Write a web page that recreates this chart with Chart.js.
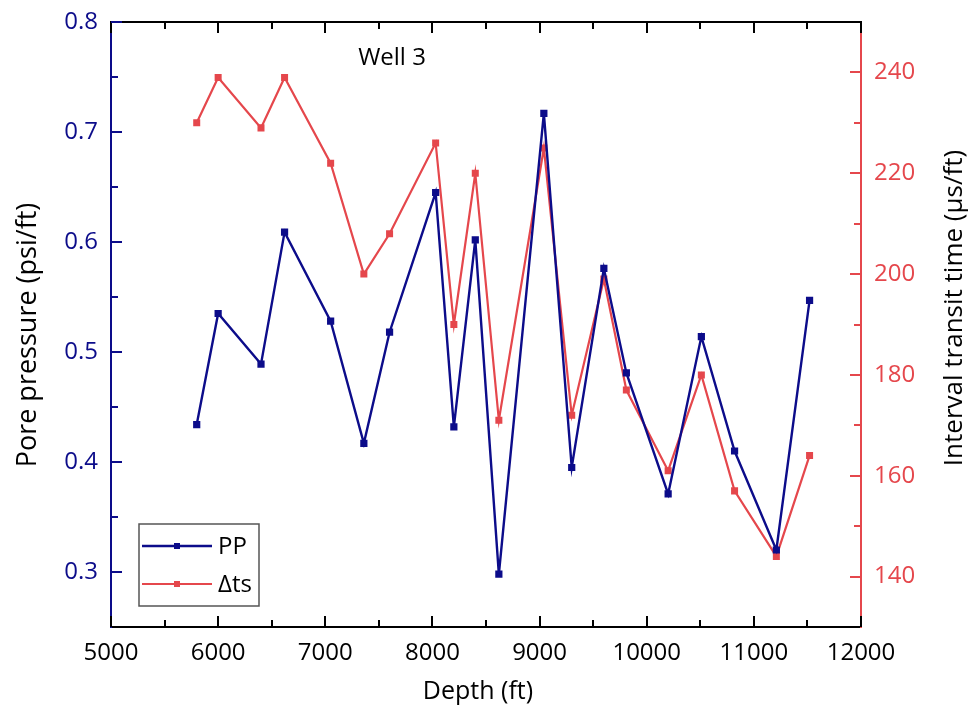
<!DOCTYPE html>
<html><head><meta charset="utf-8">
<script src="https://cdn.jsdelivr.net/npm/chart.js@4"></script>
<style>html,body{margin:0;padding:0;background:#fff}#wrap{width:978px;height:709px}</style>
</head><body><div id="wrap"><canvas id="c" width="978" height="709"></canvas></div>
<script>
const depth = [5800,6000,6400,6620,7050,7360,7600,8030,8200,8400,8620,9040,9300,9600,9810,10200,10510,10820,11210,11520];
const pp = [0.434,0.535,0.489,0.609,0.528,0.417,0.518,0.645,0.432,0.602,0.298,0.717,0.395,0.576,0.481,0.371,0.514,0.410,0.320,0.547];
const dts = [230,239,229,239,222,200,208,226,190,220,171,225,172,199,177,161,180,157,144,164];
const xTicks = [5000,6000,7000,8000,9000,10000,11000,12000];
const xMinor = [5500,6500,7500,8500,9500,10500,11500];
const ppTicks = [0.3,0.4,0.5,0.6,0.7,0.8];
const ppMinor = [0.35,0.45,0.55,0.65,0.75];
const dtsTicks = [140,160,180,200,220,240];
const dtsMinor = [150,170,190,210,230];
const seriesNames = ['PP','\u0394ts'];
const wellLabel = 'Well 3';
const xTitle = 'Depth (ft)';
const yTitle = 'Pore pressure (psi/ft)';
const y2Title = 'Interval transit time (\u00b5s/ft)';

const NAVY = '#0c0c8a', RED = '#e5474c', FONT = "'Open Sans'";

const tickPlugin = {
  id: 'inTicks',
  beforeDatasetsDraw(chart) {
    const {ctx, chartArea: a, scales: {x, y, y2}} = chart;
    ctx.save();
    ctx.lineWidth = 2;
    ctx.strokeStyle = '#000';
    ctx.beginPath(); ctx.moveTo(a.left - 1, a.top); ctx.lineTo(a.right + 1, a.top); ctx.stroke();
    const vx = (vals, len) => { vals.forEach(v => { const p = Math.round(x.getPixelForValue(v)); ctx.beginPath(); ctx.moveTo(p, a.bottom); ctx.lineTo(p, a.bottom - len); ctx.moveTo(p, a.top); ctx.lineTo(p, a.top + len); ctx.stroke(); }); };
    vx(xTicks, 11); vx(xMinor, 7);
    ctx.strokeStyle = NAVY;
    const vy = (vals, len) => { vals.forEach(v => { const p = Math.round(y.getPixelForValue(v)); ctx.beginPath(); ctx.moveTo(a.left, p); ctx.lineTo(a.left + len, p); ctx.stroke(); }); };
    vy(ppTicks, 11); vy(ppMinor, 7);
    ctx.strokeStyle = RED;
    const vy2 = (vals, len) => { vals.forEach(v => { const p = Math.round(y2.getPixelForValue(v)); ctx.beginPath(); ctx.moveTo(a.right, p); ctx.lineTo(a.right - len, p); ctx.stroke(); }); };
    vy2(dtsTicks, 11); vy2(dtsMinor, 7);
    ctx.restore();
  },
  afterDraw(chart) {
    const {ctx} = chart;
    ctx.save();
    ctx.fillStyle = '#000';
    ctx.textAlign = 'center'; ctx.textBaseline = 'middle';
    ctx.font = "24px " + FONT;
    ctx.fillText(wellLabel, 392, 58);
    ctx.font = "25px " + FONT;
    ctx.fillText(xTitle, 478, 692);
    ctx.font = "27px " + FONT;
    ctx.save(); ctx.translate(28, 335); ctx.rotate(-Math.PI/2); ctx.fillText(yTitle, 0, 0); ctx.restore();
    ctx.font = "26px " + FONT;
    ctx.save(); ctx.translate(955, 308); ctx.rotate(-Math.PI/2); ctx.fillText(y2Title, 0, 0); ctx.restore();
    const L = 139, T = 524, W = 120, H = 82;
    ctx.strokeStyle = '#555'; ctx.lineWidth = 1.5;
    ctx.strokeRect(L, T, W, H);
    chart.data.datasets.forEach((ds, i) => {
      const yy = i === 0 ? 546 : 584;
      ctx.strokeStyle = ds.borderColor; ctx.lineWidth = ds.borderWidth;
      ctx.beginPath(); ctx.moveTo(142, yy); ctx.lineTo(212, yy); ctx.stroke();
      ctx.fillStyle = ds.borderColor; ctx.fillRect(174, yy - 3, 6, 6);
      ctx.fillStyle = '#000'; ctx.textAlign = 'left'; ctx.font = "24px " + FONT;
      ctx.fillText(ds.label, 218, yy + 1);
    });
    ctx.restore();
  }
};

const fixV = w => s => { s.width = w; s.paddingTop = 0; s.paddingBottom = 0; };

new Chart(document.getElementById('c'), {
  type: 'line',
  data: {
    datasets: [
      { label: seriesNames[0], data: depth.map((d, i) => ({x: d, y: pp[i]})), yAxisID: 'y',
        borderColor: NAVY, backgroundColor: NAVY, borderWidth: 2.4, pointStyle: 'rect', pointRadius: 3.4, pointHoverRadius: 3.4, tension: 0 },
      { label: seriesNames[1], data: depth.map((d, i) => ({x: d, y: dts[i]})), yAxisID: 'y2',
        borderColor: RED, backgroundColor: RED, borderWidth: 2.2, pointStyle: 'rect', pointRadius: 3.4, pointHoverRadius: 3.4, tension: 0 }
    ]
  },
  options: {
    responsive: false, animation: false, devicePixelRatio: 1,
    layout: { padding: { top: 22, left: 0, right: 0, bottom: 0 } },
    plugins: { legend: { display: false }, tooltip: { enabled: false } },
    scales: {
      x: { type: 'linear', position: 'bottom', min: 5000, max: 12000,
        afterBuildTicks: s => { s.ticks = xTicks.map(v => ({value: v})); },
        afterFit: s => { s.height = 82; s.paddingLeft = 0; s.paddingRight = 0; },
        grid: { display: false, drawTicks: false }, border: { color: '#000', width: 2 },
        ticks: { color: '#000', font: { family: FONT, size: 24 }, padding: 12, maxRotation: 0, callback: v => String(v) } },
      y: { type: 'linear', position: 'left', min: 0.25, max: 0.8,
        afterBuildTicks: s => { s.ticks = ppTicks.map(v => ({value: v})); },
        afterFit: fixV(111),
        grid: { display: false, drawTicks: false }, border: { color: NAVY, width: 2 },
        ticks: { color: NAVY, font: { family: FONT, size: 24 }, padding: 13, callback: v => v.toFixed(1) } },
      y2: { type: 'linear', position: 'right', min: 130, max: 250,
        afterBuildTicks: s => { s.ticks = dtsTicks.map(v => ({value: v})); },
        afterFit: fixV(117),
        grid: { display: false, drawTicks: false }, border: { color: RED, width: 2 },
        ticks: { color: RED, font: { family: FONT, size: 24 }, padding: 13, callback: v => String(v) } }
    }
  },
  plugins: [tickPlugin]
});
</script></body></html>
